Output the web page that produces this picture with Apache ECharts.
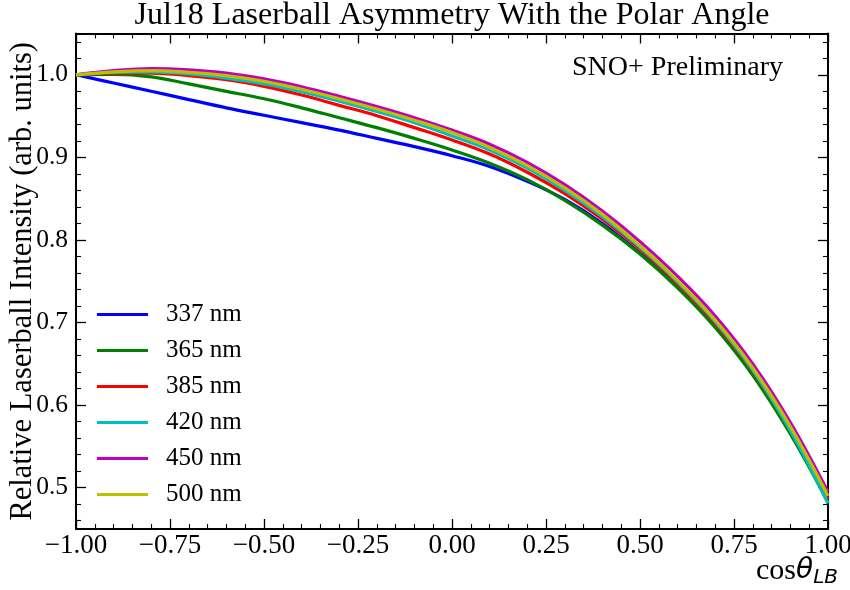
<!DOCTYPE html>
<html>
<head>
<meta charset="utf-8">
<script src="https://cdn.jsdelivr.net/npm/echarts@6/dist/echarts.min.js"></script>
<style>
  html, body { margin: 0; padding: 0; background: #fff; }
  #chart { width: 850px; height: 590px; }
</style>
</head>
<body>
<div id="chart"></div>
<script>
// cos(theta_LB) sample points
const cosTheta = [-1.0, -0.9, -0.8, -0.7, -0.6, -0.5, -0.4, -0.3, -0.2, -0.1, 0.0,
                  0.1, 0.2, 0.3, 0.4, 0.5, 0.6, 0.7, 0.8, 0.9, 1.0];

// relative laserball intensity per wavelength
const int337 = [1.000, 0.990, 0.980, 0.970, 0.960, 0.951, 0.942, 0.933, 0.923, 0.913, 0.902,
                0.889, 0.871, 0.849, 0.820, 0.784, 0.743, 0.696, 0.638, 0.566, 0.484];
const int365 = [1.000, 1.0005, 0.9975, 0.989, 0.980, 0.971, 0.960, 0.948, 0.936, 0.923, 0.909,
                0.893, 0.873, 0.848, 0.818, 0.783, 0.742, 0.694, 0.636, 0.565, 0.482];
const int385 = [1.000, 1.002, 1.002, 0.999, 0.994, 0.986, 0.9755, 0.963, 0.9505, 0.936, 0.921,
                0.904, 0.882, 0.856, 0.825, 0.789, 0.747, 0.699, 0.641, 0.570, 0.486];
const int420 = [1.000, 1.003, 1.0035, 1.001, 0.996, 0.989, 0.9795, 0.968, 0.9555, 0.942, 0.926,
                0.909, 0.887, 0.860, 0.828, 0.791, 0.749, 0.701, 0.642, 0.569, 0.481];
const int450 = [1.000, 1.005, 1.0075, 1.006, 1.002, 0.995, 0.9855, 0.974, 0.9615, 0.948, 0.933,
                0.916, 0.894, 0.867, 0.835, 0.798, 0.756, 0.708, 0.650, 0.579, 0.495];
const int500 = [1.000, 1.0035, 1.005, 1.003, 0.999, 0.992, 0.9825, 0.971, 0.9585, 0.945, 0.930,
                0.912, 0.890, 0.863, 0.831, 0.793, 0.751, 0.703, 0.645, 0.574, 0.490];

const seriesNames = ['337 nm', '365 nm', '385 nm', '420 nm', '450 nm', '500 nm'];
const seriesValues = [int337, int365, int385, int420, int450, int500];
const seriesColors = ['#0000ff', '#008000', '#ff0000', '#00bfbf', '#bf00bf', '#bfbf00'];

// axis ticks
const yMajorTicks = [0.5, 0.6, 0.7, 0.8, 0.9, 1.0];
const yMinorTicks = [];
for (let k = 23; k <= 52; k++) {
  const v = Math.round(k * 2) / 100;
  if (!yMajorTicks.some(t => Math.abs(t - v) < 1e-9)) yMinorTicks.push(v);
}

const SERIF = 'Liberation Serif';
const Y_MIN = 0.45, Y_MAX = 1.05;

const chart = echarts.init(document.getElementById('chart'), null, { renderer: 'canvas' });

const fmtX = v => (v < 0 ? '\u2212' : '') + Math.abs(v).toFixed(2);

function xAxisDef(pos, showLabel) {
  return {
    type: 'value', position: pos, min: -1, max: 1, interval: 0.25,
    axisLine: { show: true, onZero: false, lineStyle: { color: '#000', width: 2 } },
    axisTick: { show: true, inside: true, length: 10, lineStyle: { color: '#000', width: 1.3 } },
    minorTick: { show: true, splitNumber: 5, length: 5, lineStyle: { color: '#000', width: 1.1 } },
    axisLabel: { show: showLabel, formatter: fmtX, margin: 3, color: '#000', fontFamily: SERIF, fontSize: 27 },
    splitLine: { show: false }, minorSplitLine: { show: false }
  };
}

function yAxisDef(pos, ticks, len, showLine, showLabel) {
  return {
    type: 'value', position: pos, min: Y_MIN, max: Y_MAX,
    axisLine: { show: showLine, onZero: false, lineStyle: { color: '#000', width: 2 } },
    axisTick: { show: true, inside: true, length: len, customValues: ticks,
                lineStyle: { color: '#000', width: len > 6 ? 1.3 : 1.1 } },
    axisLabel: { show: showLabel, customValues: yMajorTicks, formatter: v => v.toFixed(1),
                 margin: 8, color: '#000', fontFamily: SERIF, fontSize: 25.5 },
    splitLine: { show: false }
  };
}

const yLeft = yAxisDef('left', yMajorTicks, 10, true, true);
yLeft.name = 'Relative Laserball Intensity (arb. units)';
yLeft.nameLocation = 'middle';
yLeft.nameGap = 38;
yLeft.nameMoveOverlap = false;
yLeft.nameTextStyle = { color: '#000', fontFamily: SERIF, fontSize: 30.5 };

const option = {
  backgroundColor: '#fff',
  animation: false,
  title: {
    text: 'Jul18 Laserball Asymmetry With the Polar Angle',
    left: 452, top: 0, textAlign: 'center', padding: 0,
    textStyle: { color: '#000', fontFamily: SERIF, fontSize: 32, fontWeight: 'normal' }
  },
  grid: { left: 76, right: 22, top: 33.5, bottom: 61, containLabel: false, outerBoundsMode: 'none' },
  legend: {
    orient: 'vertical', left: 97, top: 302, padding: 0,
    itemWidth: 51, itemHeight: 3, itemGap: 11, icon: 'rect',
    data: seriesNames,
    textStyle: { color: '#000', fontFamily: SERIF, fontSize: 25, lineHeight: 24, padding: [0, 0, 0, 13] }
  },
  xAxis: [xAxisDef('bottom', true), xAxisDef('top', false)],
  yAxis: [
    yLeft,
    yAxisDef('left', yMinorTicks, 5, false, false),
    yAxisDef('right', yMajorTicks, 10, true, false),
    yAxisDef('right', yMinorTicks, 5, false, false)
  ],
  graphic: [
    {
      type: 'text', left: 572, top: 54,
      style: { text: 'SNO+ Preliminary', fill: '#000', font: '28px "Liberation Serif"' }
    },
    {
      type: 'text', right: 12, top: 556,
      style: {
        text: '{c|cos}{t|\u03b8}{s|LB}',
        fill: '#000',
        rich: {
          c: { fontFamily: SERIF, fontSize: 30, lineHeight: 34, verticalAlign: 'middle', fill: '#000' },
          t: { fontFamily: 'DejaVu Sans', fontStyle: 'italic', fontSize: 28, lineHeight: 34, verticalAlign: 'middle', fill: '#000' },
          s: { fontFamily: 'DejaVu Sans', fontStyle: 'italic', fontSize: 20, lineHeight: 22, verticalAlign: 'bottom', fill: '#000' }
        }
      }
    }
  ],
  series: seriesNames.map((name, i) => ({
    name: name,
    type: 'line',
    xAxisIndex: 0, yAxisIndex: 0,
    data: cosTheta.map((x, j) => [x, seriesValues[i][j]]),
    smooth: 0.4,
    showSymbol: false,
    clip: true,
    color: seriesColors[i],
    lineStyle: { color: seriesColors[i], width: 3.2 }
  }))
};

chart.setOption(option);
</script>
</body>
</html>
